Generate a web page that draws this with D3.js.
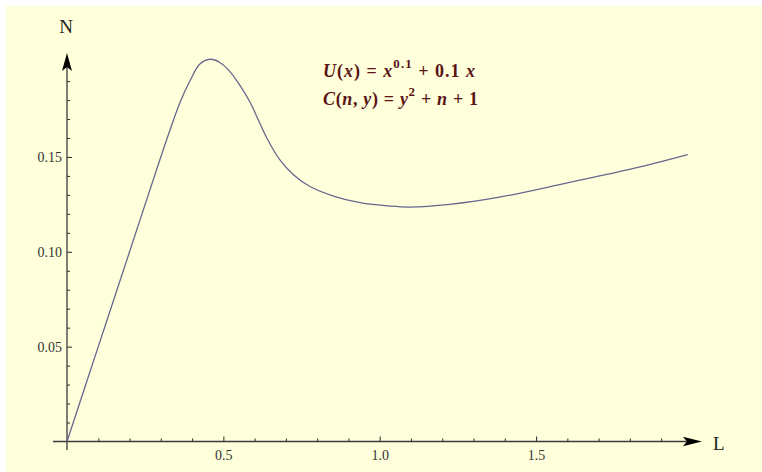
<!DOCTYPE html>
<html>
<head>
<meta charset="utf-8">
<script src="https://cdn.jsdelivr.net/npm/d3@7"></script>
<style>body{margin:0;background:#fff} svg text{font-family:"Liberation Serif","Times New Roman",Times,serif}</style>
</head>
<body>
<div id="chart"></div>
<script>
// values
var L = [0, 0.10, 0.20, 0.297, 0.33, 0.362, 0.393, 0.425, 0.457, 0.489, 0.521, 0.553, 0.585, 0.612, 0.639, 0.681, 0.724, 0.777, 0.852, 0.937, 1.033, 1.096, 1.224, 1.383, 1.597, 1.809, 1.985];
var N = [0, 0.050, 0.100, 0.1485, 0.1645, 0.179, 0.190, 0.199, 0.2015, 0.1998, 0.195, 0.1877, 0.179, 0.1695, 0.160, 0.1484, 0.1406, 0.1344, 0.1294, 0.1259, 0.1241, 0.1236, 0.125, 0.1288, 0.1362, 0.1438, 0.1512];

var xMajor = [0.5, 1.0, 1.5];
var xLabels = ["0.5", "1.0", "1.5"];
var yMajor = [0.05, 0.10, 0.15];
var yLabels = ["0.05", "0.10", "0.15"];

var w = 762, h = 472;
var axisCol = "#3a3a3a";
var serif = "'Liberation Serif', 'Times New Roman', Times, serif";

var svg = d3.select("#chart").append("svg").attr("width", w).attr("height", h);
svg.append("rect").attr("x", 6).attr("y", 6).attr("width", w - 6).attr("height", h - 6).attr("fill", "#ffffdc");

var x = d3.scaleLinear().domain([0, 2]).range([67, 692.4]);
var y = d3.scaleLinear().domain([0, 0.2]).range([441.5, 62.1]);

// minor ticks
var xMinor = d3.range(1, 20).map(function (i) { return i / 10; }).filter(function (d) { return xMajor.indexOf(d) < 0; });
var yMinor = d3.range(1, 20).map(function (i) { return i / 100; }).filter(function (d) { return Math.round(d * 100) % 5 != 0; });

var gx = svg.append("g").attr("transform", "translate(0," + y(0) + ")").style("color", axisCol);
gx.call(d3.axisBottom(x).tickValues(xMinor).tickSize(-3).tickFormat(""));
gx.append("g").call(d3.axisBottom(x).tickValues(xMajor).tickSize(-5).tickPadding(9).tickFormat(function (d, i) { return xLabels[i]; }));
gx.selectAll(".domain").remove();

var gy = svg.append("g").attr("transform", "translate(" + x(0) + ",0)").style("color", axisCol);
gy.call(d3.axisLeft(y).tickValues(yMinor).tickSize(-3).tickFormat(""));
gy.append("g").call(d3.axisLeft(y).tickValues(yMajor).tickSize(-5).tickPadding(5).tickFormat(function (d, i) { return yLabels[i]; }));
gy.selectAll(".domain").remove();

svg.selectAll("g").attr("font-family", serif);
svg.selectAll(".tick text").attr("font-size", 14).attr("fill", "#333");
svg.selectAll(".tick line").attr("stroke-width", 1.1);

// axis lines with arrowheads
var xEnd = x(2.0304), yEnd = y(0.2048);
svg.append("line").attr("x1", x(-0.045)).attr("x2", xEnd - 10).attr("y1", y(0)).attr("y2", y(0)).attr("stroke", axisCol).attr("stroke-width", 1.3);
svg.append("line").attr("x1", x(0)).attr("x2", x(0)).attr("y1", y(-0.0045)).attr("y2", yEnd + 10).attr("stroke", axisCol).attr("stroke-width", 1.3);
svg.append("path").attr("d", "M" + xEnd + "," + y(0) + "L" + (xEnd - 19) + "," + (y(0) - 4.8) + "L" + (xEnd - 15) + "," + y(0) + "L" + (xEnd - 19) + "," + (y(0) + 4.8) + "Z").attr("fill", "#000");
svg.append("path").attr("d", "M" + x(0) + "," + yEnd + "L" + (x(0) - 5) + "," + (yEnd + 18) + "L" + x(0) + "," + (yEnd + 14) + "L" + (x(0) + 5) + "," + (yEnd + 18) + "Z").attr("fill", "#000");

svg.append("text").attr("x", x(0) - 1).attr("y", 33).attr("text-anchor", "middle").attr("font-size", 19).attr("fill", "#222").text("N");
svg.append("text").attr("x", 713).attr("y", 450).attr("font-size", 19).attr("fill", "#222").text("L");

// curve
var pts = L.map(function (d, i) { return [d, N[i]]; });
var line = d3.line().x(function (d) { return x(d[0]); }).y(function (d) { return y(d[1]); }).curve(d3.curveCatmullRom.alpha(0.5));
svg.append("path").datum(pts).attr("d", line).attr("fill", "none").attr("stroke", "#66668e").attr("stroke-width", 1.3);

// formulas
var fcol = "#5a1414";
function formula(yy, len, parts) {
    var t = svg.append("text").attr("x", 323).attr("y", yy).attr("font-size", 18).attr("font-weight", "bold").attr("fill", fcol)
        .attr("textLength", len).attr("lengthAdjust", "spacing");
    parts.forEach(function (p) {
        var s = t.append("tspan").text(p[0]);
        if (p[1] == "i") s.attr("font-style", "italic");
        if (p[1] == "sup") s.attr("font-size", 13).attr("dy", -9);
        if (p[1] == "down") s.attr("dy", 9);
    });
}
formula(77, 152, [["U", "i"], ["("], ["x", "i"], [") = "], ["x", "i"], ["0.1", "sup"], [" + 0.1 ", "down"], ["x", "i"]]);
formula(105, 155, [["C", "i"], ["("], ["n", "i"], [", "], ["y", "i"], [") = "], ["y", "i"], ["2", "sup"], [" + ", "down"], ["n", "i"], [" + 1"]]);
</script>
</body>
</html>
